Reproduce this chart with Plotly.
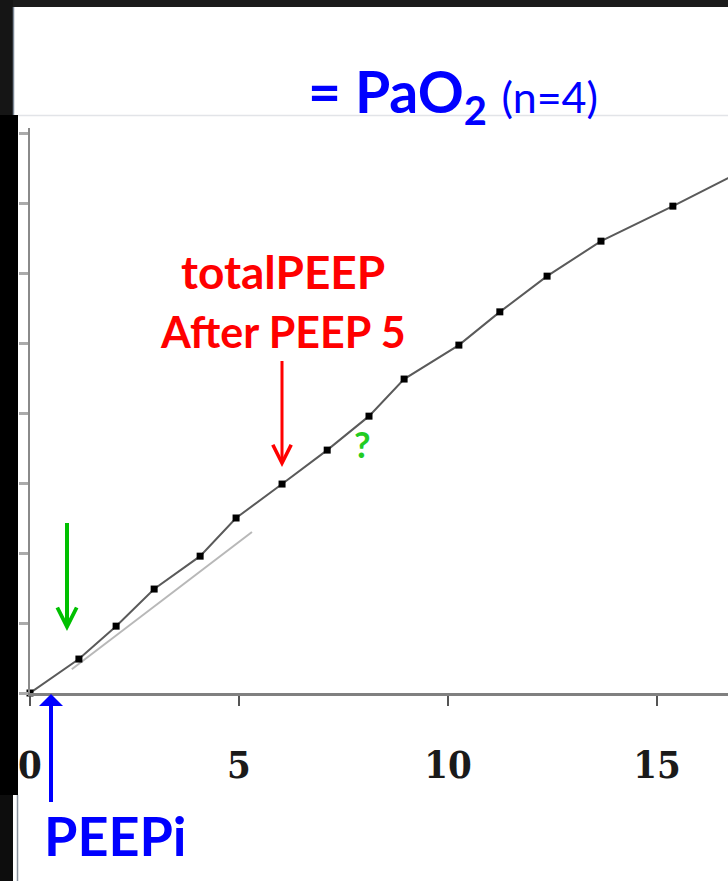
import plotly.graph_objects as go

# ---- data ----
peep_ext = [0, 1.17, 2.06, 2.97, 4.07, 4.93, 6.03, 7.11, 8.11, 8.95, 10.26, 11.24, 12.37, 13.66, 15.38]
peep_tot = [0, 0.97, 1.91, 2.97, 3.91, 5.0, 5.97, 6.94, 7.91, 8.97, 9.94, 10.89, 11.91, 12.91, 13.91]
# line continues beyond the right edge
line_ext_x = [17.1]
line_ext_y = [14.95]
# faint second line
faint_x = [1.0, 5.31]
faint_y = [0.68, 4.6]

x_tickvals = [0, 5, 10, 15]
x_ticktext = ["<b>0</b>", "<b>5</b>", "<b>10</b>", "<b>15</b>"]
y_tickvals = [0, 2, 4, 6, 8, 10, 12, 14, 16]

W, H = 728, 881
L, R, T, B = 30, 0, 128, 188
PW, PH = W - L - R, H - T - B
XMAX = PW / 41.8
YMAX = PH / 35.0


def fx(px):
    return (px - L) / PW


def fy(py):
    return (H - B - py) / PH


fig = go.Figure()
fig.add_trace(go.Scatter(x=faint_x, y=faint_y, mode="lines",
                         line=dict(color="#b8b8b8", width=2), hoverinfo="skip"))
fig.add_trace(go.Scatter(x=peep_ext + line_ext_x, y=peep_tot + line_ext_y, mode="lines",
                         line=dict(color="#5a5a5a", width=2), hoverinfo="skip"))
fig.add_trace(go.Scatter(x=peep_ext, y=peep_tot, mode="markers",
                         marker=dict(symbol="square", size=7, color="#000000"),
                         cliponaxis=False))

shapes = []


def rect(x0, y0, x1, y1, color):
    shapes.append(dict(type="rect", xref="paper", yref="paper",
                       x0=fx(x0), x1=fx(x1), y0=fy(y1), y1=fy(y0),
                       fillcolor=color, line=dict(width=0), layer="above"))


def hline(x0, x1, y, color, w=1):
    shapes.append(dict(type="line", xref="paper", yref="paper",
                       x0=fx(x0), x1=fx(x1), y0=fy(y), y1=fy(y),
                       line=dict(color=color, width=w)))


def vline(x, y0, y1, color, w=1):
    shapes.append(dict(type="line", xref="paper", yref="paper",
                       x0=fx(x), x1=fx(x), y0=fy(y0), y1=fy(y1),
                       line=dict(color=color, width=w)))


rect(0, 0, W, 7, "#1b1b1b")
rect(0, 0, 13, 115, "#151515")
rect(0, 115, 18, 795, "#000000")
rect(0, 795, 13, H, "#0d0d0d")
vline(13.5, 7, 115, "#7d8896", 1.5)
vline(17.5, 795, H, "#8a939e", 1.5)
hline(18, W, 115.5, "#e2e4e8", 1.5)

ann = []
blue, red, green = "#0000FF", "#FF0000", "#00C000"

ann.append(dict(xref="paper", yref="paper", x=fx(306), y=fy(95), xanchor="left", yanchor="middle",
                text="<b>= PaO<sub>2</sub></b> <span style='font-size:43px'>(n=4)</span>",
                showarrow=False, font=dict(family="Lato", size=57, color=blue)))
ann.append(dict(xref="paper", yref="paper", x=fx(283), y=fy(271), xanchor="center", yanchor="middle",
                text="<b>totalPEEP</b>", showarrow=False,
                font=dict(family="Lato", size=46, color=red)))
ann.append(dict(xref="paper", yref="paper", x=fx(283), y=fy(331), xanchor="center", yanchor="middle",
                text="<b>After PEEP 5</b>", showarrow=False,
                font=dict(family="Lato", size=43, color=red)))
ann.append(dict(xref="paper", yref="paper", x=fx(362), y=fy(444), xanchor="center", yanchor="middle",
                text="<b>?</b>", showarrow=False,
                font=dict(family="Lato", size=36, color="#22CC22")))
ann.append(dict(xref="paper", yref="paper", x=fx(42), y=fy(835), xanchor="left", yanchor="middle",
                text="<b>PEEPi</b>", showarrow=False,
                font=dict(family="Lato", size=54, color=blue)))

# arrows
ann.append(dict(xref="paper", yref="paper", x=fx(282), y=fy(467), ax=0, ay=-109, text=" ",
                showarrow=True, arrowhead=5, arrowsize=1.2, arrowwidth=3, arrowcolor=red, standoff=0,
                font=dict(size=2)))
ann.append(dict(xref="paper", yref="paper", x=fx(67), y=fy(631), ax=0, ay=-111, text=" ",
                showarrow=True, arrowhead=5, arrowsize=0.95, arrowwidth=4, arrowcolor=green, standoff=0,
                font=dict(size=2)))
ann.append(dict(xref="paper", yref="paper", x=fx(51), y=fy(694), ax=0, ay=111, text=" ",
                showarrow=True, arrowhead=1, arrowsize=1.0, arrowwidth=4, arrowcolor=blue, standoff=0,
                font=dict(size=2)))

fig.update_layout(
    width=W, height=H,
    margin=dict(l=L, r=R, t=T, b=B, pad=0),
    paper_bgcolor="#FFFFFF", plot_bgcolor="#FFFFFF",
    showlegend=False,
    shapes=shapes, annotations=ann,
    xaxis=dict(range=[0, XMAX], showgrid=False, zeroline=False,
               showline=True, linecolor="#808080", linewidth=3,
               ticks="outside", ticklen=10, tickwidth=2, tickcolor="#555555",
               tickvals=x_tickvals, ticktext=x_ticktext, ticklabelstandoff=26,
               tickfont=dict(family="DejaVu Serif Condensed, Liberation Serif",
                             size=38, color="#1a1a1a")),
    yaxis=dict(range=[0, YMAX], showgrid=False, zeroline=False,
               showline=True, linecolor="#8a8a8a", linewidth=2,
               ticks="outside", ticklen=9, tickwidth=3, tickcolor="#aaaaaa",
               tickvals=y_tickvals, showticklabels=False),
)

fig.write_html("out.html")
